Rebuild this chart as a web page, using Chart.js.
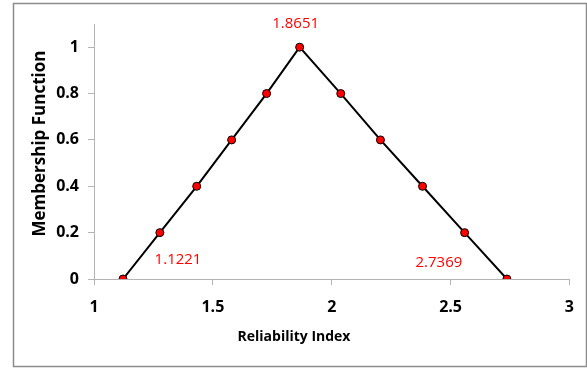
<!DOCTYPE html>
<html>
<head>
<meta charset="utf-8">
<script src="https://cdn.jsdelivr.net/npm/chart.js@4/dist/chart.umd.min.js"></script>
<style>
html,body{margin:0;padding:0;background:#fff;}
canvas{display:block;}
</style>
</head>
<body>
<canvas id="c" width="587" height="369"></canvas>
<script>
// Data
const reliabilityIndex = [1.1221, 1.277, 1.432, 1.579, 1.726, 1.8651, 2.038, 2.205, 2.382, 2.559, 2.7369];
const membership       = [0, 0.2, 0.4, 0.6, 0.8, 1.0, 0.8, 0.6, 0.4, 0.2, 0];
const labelledIndices  = [0, 5, 10];
const xTickValues = [1, 1.5, 2, 2.5, 3];
const yTickValues = [0, 0.2, 0.4, 0.6, 0.8, 1];
const xTitle = 'Reliability Index';
const yTitle = 'Membership Function';

const FONT = "'Open Sans', 'DejaVu Sans', sans-serif";
const AXIS_GRAY = '#b4b4b4';

const points = reliabilityIndex.map((x, i) => ({x: x, y: membership[i]}));

// label offsets relative to the points (style only)
const labelOffsets = {0: [55, -19], 5: [-4, -23], 10: [-68, -16]};

const decorPlugin = {
  id: 'decor',
  beforeDraw(chart) {
    const ctx = chart.ctx;
    ctx.save();
    ctx.fillStyle = '#fff';
    ctx.fillRect(0, 0, chart.width, chart.height);
    ctx.strokeStyle = '#8c8c8c';
    ctx.lineWidth = 1.5;
    ctx.strokeRect(13.5, 3.5, 573, 363);
    ctx.restore();
  },
  afterDraw(chart) {
    const ctx = chart.ctx;
    const meta = chart.getDatasetMeta(0);
    ctx.save();
    ctx.fillStyle = '#ff0000';
    ctx.font = "15px " + FONT;
    ctx.textAlign = 'center';
    ctx.textBaseline = 'middle';
    labelledIndices.forEach(i => {
      const el = meta.data[i];
      const off = labelOffsets[i];
      ctx.fillText(reliabilityIndex[i].toFixed(4), el.x + off[0], el.y + off[1]);
    });
    // axis titles
    ctx.fillStyle = '#000';
    ctx.font = "bold 14px " + FONT;
    ctx.fillText(xTitle, 294, 337);
    ctx.font = "bold 17px " + FONT;
    ctx.translate(40, 143.5);
    ctx.rotate(-Math.PI / 2);
    ctx.fillText(yTitle, 0, 0);
    ctx.restore();
  }
};

new Chart(document.getElementById('c'), {
  type: 'scatter',
  data: {
    datasets: [{
      data: points,
      showLine: true,
      borderColor: '#000',
      borderWidth: 2,
      pointRadius: 4,
      pointHoverRadius: 4,
      pointBackgroundColor: '#ff0000',
      pointBorderColor: '#000',
      pointBorderWidth: 1,
      tension: 0
    }]
  },
  options: {
    responsive: false,
    animation: false,
    devicePixelRatio: 1,
    layout: {padding: {left: 0, top: 24, right: 17, bottom: 0}},
    plugins: {legend: {display: false}, tooltip: {enabled: false}},
    scales: {
      x: {
        type: 'linear',
        min: 1, max: 3,
        afterBuildTicks(scale) { scale.ticks = xTickValues.map(v => ({value: v})); },
        afterFit(scale) { scale.height = 90; },
        grid: {drawOnChartArea: false, drawTicks: true, tickLength: 6, color: AXIS_GRAY},
        border: {color: AXIS_GRAY, width: 1},
        ticks: {
          color: '#000',
          font: {family: FONT, size: 16, weight: 'bold'},
          padding: 13,
          maxRotation: 0,
          callback: v => String(v)
        }
      },
      y: {
        type: 'linear',
        min: 0, max: 1.1,
        afterBuildTicks(scale) { scale.ticks = yTickValues.map(v => ({value: v})); },
        afterFit(scale) { scale.width = 94; },
        grid: {drawOnChartArea: false, drawTicks: true, tickLength: 6, color: AXIS_GRAY},
        border: {color: AXIS_GRAY, width: 1},
        ticks: {
          color: '#000',
          font: {family: FONT, size: 16, weight: 'bold'},
          padding: 9,
          callback: v => String(Math.round(v * 10) / 10)
        }
      }
    }
  },
  plugins: [decorPlugin]
});
</script>
</body>
</html>
